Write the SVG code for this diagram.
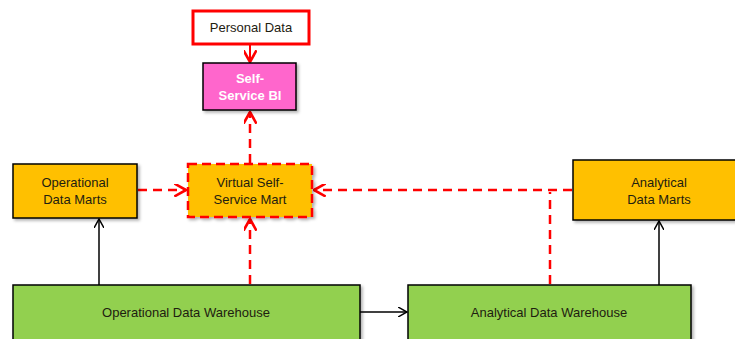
<svg xmlns="http://www.w3.org/2000/svg" width="735" height="339" viewBox="0 0 735 339">
<style>
.t{font-family:"Liberation Sans",Arial,sans-serif;font-size:13px;fill:#1e2010;text-anchor:middle}
.w{fill:#fff;font-weight:bold}
.box{stroke:#000;stroke-width:1.5}
.y{fill:#FFC000}
.g{fill:#92D050}
.red{stroke:#FF0000;stroke-width:2.5;fill:none;stroke-dasharray:9,6}
.blk{stroke:#000;stroke-width:1.5;fill:none}
</style>
<defs>
<filter id="sh" x="-10%" y="-10%" width="130%" height="140%">
<feDropShadow dx="2" dy="2" stdDeviation="1.5" flood-color="#000" flood-opacity="0.3"/>
</filter>
<marker id="ab" viewBox="0 0 10 10" refX="9" refY="5" markerWidth="10" markerHeight="10" orient="auto" markerUnits="userSpaceOnUse">
<path d="M0,0 L9,5 L0,10" fill="none" stroke="#000" stroke-width="1.5"/>
</marker>
<marker id="ar2" viewBox="0 0 10 10" refX="9" refY="5" markerWidth="13" markerHeight="13" orient="auto" markerUnits="userSpaceOnUse">
<path d="M0,0 L9,5 L0,10" fill="none" stroke="#FF0000" stroke-width="2"/>
</marker>
</defs>
<g id="connectors">
<line x1="250" y1="45" x2="250" y2="62" stroke="#FF0000" stroke-width="2" marker-end="url(#ar2)"/>
<line class="red" x1="250" y1="163" x2="250" y2="112" marker-end="url(#ar2)"/>
<line class="red" x1="250" y1="284" x2="250" y2="219" marker-end="url(#ar2)"/>
<line class="red" x1="138" y1="190" x2="186" y2="190" marker-end="url(#ar2)"/>
<line class="red" x1="572" y1="190" x2="314" y2="190" marker-end="url(#ar2)"/>
<line class="red" x1="550" y1="284" x2="550" y2="192"/>
<line class="blk" x1="99" y1="285" x2="99" y2="219" marker-end="url(#ab)"/>
<line class="blk" x1="659" y1="285" x2="659" y2="221" marker-end="url(#ab)"/>
<line class="blk" x1="360" y1="312" x2="407" y2="312" marker-end="url(#ab)"/>
</g>
<g id="personal-data">
<rect x="193" y="11" width="116" height="33" fill="#fff" stroke="#FF0000" stroke-width="3"/>
<text class="t" x="251" y="32">Personal Data</text>
</g>
<g id="self-service-bi">
<rect class="box" x="203" y="63" width="93" height="47" fill="#FF66CC" filter="url(#sh)"/>
<text class="t w" x="250" y="83">Self-</text>
<text class="t w" x="250" y="100">Service BI</text>
</g>
<g id="operational-data-marts">
<rect class="box y" x="13" y="164" width="124" height="54" filter="url(#sh)"/>
<text class="t" x="75" y="187">Operational</text>
<text class="t" x="75" y="204">Data Marts</text>
</g>
<g id="virtual-self-service-mart">
<rect x="188" y="164" width="124" height="53" fill="#FFC000" stroke="#FF0000" stroke-width="2.5" stroke-dasharray="9,5" filter="url(#sh)"/>
<text class="t" x="250" y="187">Virtual Self-</text>
<text class="t" x="250" y="204">Service Mart</text>
</g>
<g id="analytical-data-marts">
<rect class="box y" x="573" y="160" width="170" height="60" filter="url(#sh)"/>
<text class="t" x="659" y="187">Analytical</text>
<text class="t" x="659" y="204">Data Marts</text>
</g>
<g id="operational-data-warehouse">
<rect class="box g" x="13" y="285" width="347" height="60" filter="url(#sh)"/>
<text class="t" x="186" y="317">Operational Data Warehouse</text>
</g>
<g id="analytical-data-warehouse">
<rect class="box g" x="408" y="285" width="283" height="60" filter="url(#sh)"/>
<text class="t" x="549" y="317">Analytical Data Warehouse</text>
</g>
</svg>
